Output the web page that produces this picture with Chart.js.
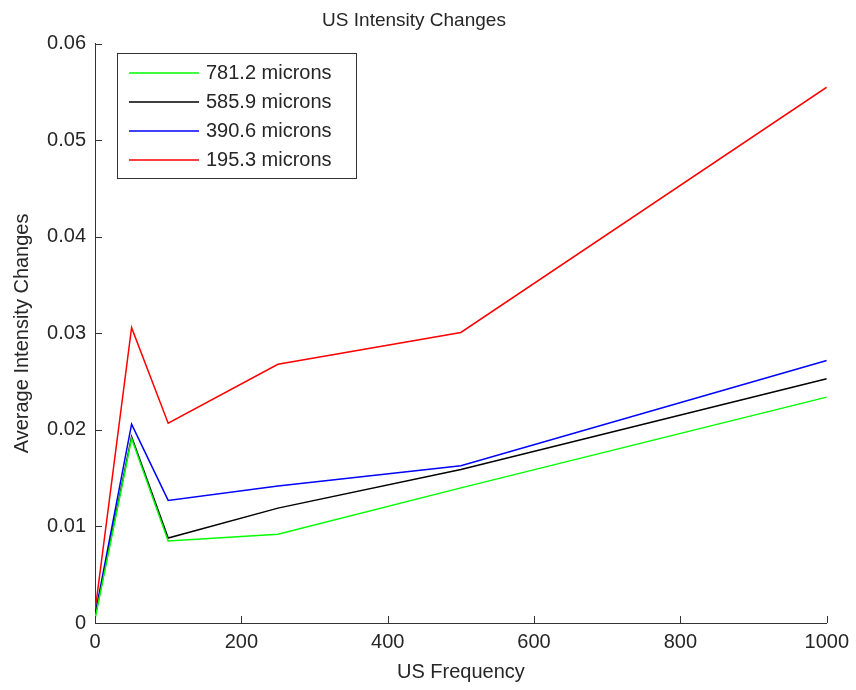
<!DOCTYPE html>
<html>
<head>
<meta charset="utf-8">
<script src="https://cdn.jsdelivr.net/npm/chart.js@4.4.1/dist/chart.umd.min.js"></script>
<style>
  html, body { margin: 0; padding: 0; background: #fff; }
  #wrap { width: 856px; height: 690px; }
</style>
</head>
<body>
<div id="wrap"><canvas id="myChart" width="856" height="690"></canvas></div>
<script>
// US frequency values (x)
const frequencies = [0, 50, 100, 250, 500, 1000];
// average intensity change per depth
const series781 = [0.0004, 0.0191, 0.0085, 0.0092, 0.0140, 0.0234];
const series586 = [0.0006, 0.0193, 0.0088, 0.0119, 0.0159, 0.0253];
const series391 = [0.0008, 0.0206, 0.0127, 0.0142, 0.0163, 0.0272];
const series195 = [0.0012, 0.0306, 0.0207, 0.0268, 0.0301, 0.0555];
const seriesLabels = ["781.2 microns", "585.9 microns", "390.6 microns", "195.3 microns"];
const seriesColors = ["#00ff00", "#000000", "#0000ff", "#ff0000"];

const FONT = "'Liberation Sans', Arial, sans-serif";
const TEXT = "#262626";
const AXIS = "#333333";

function toPoints(vals) {
  return vals.map((v, i) => ({ x: frequencies[i], y: v }));
}

const allSeries = [series781, series586, series391, series195];
const datasets = allSeries.map((s, i) => ({
  label: seriesLabels[i],
  data: toPoints(s),
  borderColor: seriesColors[i],
  backgroundColor: seriesColors[i],
  borderWidth: 1.5,
  pointRadius: 0,
  tension: 0,
  fill: false,
}));

// matlab-like inward ticks
const inwardTicks = {
  id: "inwardTicks",
  afterDraw(chart) {
    const c = chart.ctx;
    const xs = chart.scales.x, ys = chart.scales.y;
    const area = chart.chartArea;
    c.save();
    c.strokeStyle = AXIS;
    c.lineWidth = 1;
    c.beginPath();
    xs.ticks.forEach(t => {
      const px = Math.round(xs.getPixelForValue(t.value)) + 0.5;
      c.moveTo(px, area.bottom);
      c.lineTo(px, area.bottom - 7);
    });
    ys.ticks.forEach(t => {
      const py = Math.round(ys.getPixelForValue(t.value)) + 0.5;
      c.moveTo(area.left, py);
      c.lineTo(area.left + 7, py);
    });
    c.stroke();
    c.restore();
  }
};

// legend box inside the plot, top-left
const boxLegend = {
  id: "boxLegend",
  afterDraw(chart) {
    const c = chart.ctx;
    const x0 = 117, y0 = 53, w = 239, h = 125;
    c.save();
    c.fillStyle = "#fff";
    c.fillRect(x0, y0, w, h);
    c.strokeStyle = AXIS;
    c.lineWidth = 1;
    c.strokeRect(x0 + 0.5, y0 + 0.5, w, h);
    c.font = "20px " + FONT;
    c.textBaseline = "middle";
    c.fillStyle = TEXT;
    chart.data.datasets.forEach((ds, i) => {
      const y = 73 + i * 29;
      c.strokeStyle = ds.borderColor;
      c.lineWidth = 1.5;
      c.beginPath();
      c.moveTo(129, y);
      c.lineTo(199, y);
      c.stroke();
      c.fillStyle = TEXT;
      c.fillText(ds.label, 206, y);
    });
    c.restore();
  }
};

const ctx = document.getElementById("myChart").getContext("2d");
new Chart(ctx, {
  type: "line",
  data: { datasets: datasets },
  options: {
    responsive: false,
    animation: false,
    layout: { padding: { left: 0, right: 28, top: 0, bottom: 0 } },
    plugins: {
      legend: { display: false },
      tooltip: { enabled: false },
      title: {
        display: true,
        text: "US Intensity Changes",
        color: TEXT,
        font: { family: FONT, size: 19, weight: "normal", lineHeight: 1.2 },
        padding: { top: 9, bottom: 12 },
      },
    },
    scales: {
      x: {
        type: "linear",
        min: 0,
        max: 1000,
        afterFit(scale) { scale.height = 67; },
        grid: { display: false, drawTicks: false },
        border: { display: true, color: AXIS, width: 1 },
        ticks: {
          stepSize: 200,
          color: TEXT,
          padding: 7,
          maxRotation: 0,
          font: { family: FONT, size: 20 },
          callback: v => String(v),
        },
        title: {
          display: true,
          text: "US Frequency",
          color: TEXT,
          font: { family: FONT, size: 20, lineHeight: 1.2 },
          padding: { top: 0, bottom: 6 },
        },
      },
      y: {
        min: 0,
        max: 0.06,
        afterFit(scale) { scale.width = 95; },
        grid: { display: false, drawTicks: false },
        border: { display: true, color: AXIS, width: 1 },
        ticks: {
          stepSize: 0.01,
          color: TEXT,
          padding: 9,
          font: { family: FONT, size: 20 },
          callback: v => (v === 0 ? "0" : v.toFixed(2)),
        },
        title: {
          display: true,
          text: "Average Intensity Changes",
          color: TEXT,
          font: { family: FONT, size: 20, lineHeight: 1.2 },
          padding: { top: 10, bottom: 0 },
        },
      },
    },
  },
  plugins: [inwardTicks, boxLegend],
});
</script>
</body>
</html>
